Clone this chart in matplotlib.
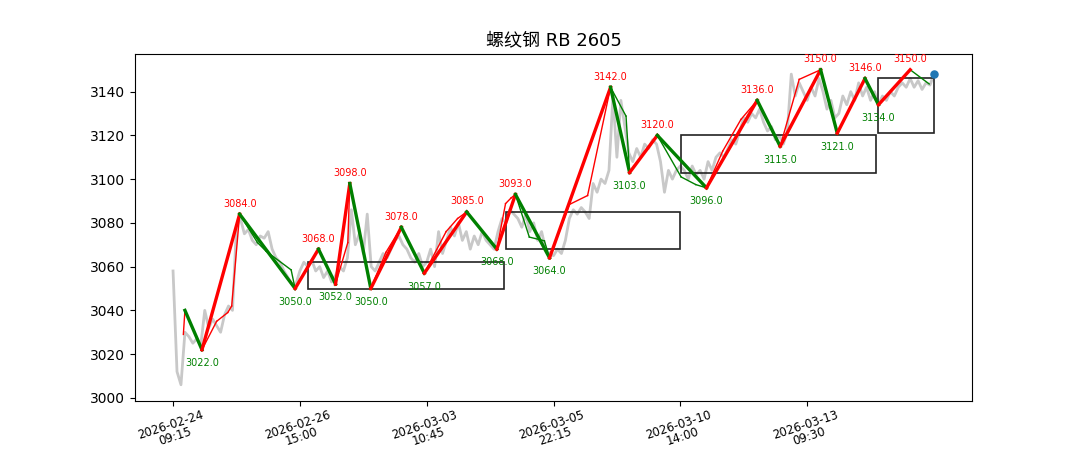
import matplotlib
matplotlib.use('Agg')
import matplotlib.pyplot as plt
from matplotlib.patches import Rectangle

plt.rcParams['font.family'] = ['DejaVu Sans', 'Noto Sans CJK SC']

title = '螺纹钢 RB 2605'

tick_pos = [0, 32, 64, 96, 128, 160]
tick_labels = ['2026-02-24\n09:15', '2026-02-26\n15:00', '2026-03-03\n10:45',
               '2026-03-05\n22:15', '2026-03-10\n14:00', '2026-03-13\n09:30']

# price line, one value per index
close = [
    3058, 3012, 3006, 3030, 3028, 3025, 3027, 3024, 3040, 3032,
    3036, 3033, 3030, 3038, 3042, 3040, 3078, 3082, 3075, 3077,
    3072, 3070, 3074, 3073, 3076, 3068, 3064, 3062, 3058, 3055,
    3052, 3052, 3058, 3062, 3060, 3063, 3058, 3060, 3055, 3058,
    3053, 3056, 3060, 3058, 3064, 3086, 3070, 3075, 3066, 3084,
    3060, 3058, 3062, 3066, 3064, 3068, 3072, 3074, 3070, 3068,
    3064, 3062, 3066, 3060, 3062, 3068, 3060, 3076, 3066, 3072,
    3078, 3074, 3080, 3072, 3076, 3068, 3074, 3070, 3076, 3072,
    3070, 3068, 3076, 3082, 3080, 3086, 3084, 3082, 3078, 3084,
    3076, 3080, 3072, 3076, 3068, 3066, 3065, 3068, 3066, 3072,
    3082, 3086, 3084, 3087, 3085, 3082, 3098, 3094, 3100, 3098,
    3104, 3138, 3110, 3136, 3124, 3112, 3108, 3114, 3110, 3116,
    3114, 3118, 3116, 3108, 3094, 3104, 3100, 3104, 3106, 3104,
    3100, 3106, 3102, 3104, 3100, 3108, 3104, 3110, 3112, 3110,
    3114, 3118, 3116, 3122, 3128, 3126, 3130, 3128, 3132, 3126,
    3122, 3124, 3118, 3120, 3116, 3122, 3148, 3138, 3144, 3140,
    3136, 3142, 3138, 3146, 3140, 3132, 3136, 3128, 3130, 3138,
    3134, 3140, 3136, 3144, 3138, 3142, 3136, 3140, 3134, 3138,
    3136, 3140, 3138, 3142, 3144, 3142, 3146, 3142, 3145, 3141,
    3144, 3143, 3148,
]

# strokes (thick)
bi_x = [3.0, 7.3, 16.8, 30.8, 36.7, 41.0, 44.6, 49.9, 57.6, 63.4, 74.1, 81.7, 86.4,
        95.0, 110.4, 115.2, 122.2, 134.6, 147.4, 153.2, 163.4, 167.6, 174.6, 178.0, 186.0]
bi_y = [3040, 3022, 3084, 3050, 3068, 3052, 3098, 3050, 3078, 3057, 3085, 3068, 3093,
        3064, 3142, 3103, 3120, 3096, 3136, 3115, 3150, 3121, 3146, 3134, 3150]

# lower level (thin)
seg_x = [2.6, 3.0, 7.3, 11.0, 13.8, 14.8, 16.8, 21.3, 23.5, 29.8, 30.8, 36.7, 41.0,
         44.1, 44.6, 49.9, 53.7, 57.6, 63.4, 68.9, 71.8, 74.1, 81.7, 83.9, 85.3, 86.4,
         89.9, 93.7, 95.0, 100.0, 104.6, 110.4, 114.3, 115.2, 122.2, 128.2, 131.9,
         134.6, 138.7, 143.3, 147.4, 153.2, 158.0, 163.4, 167.6, 174.6, 178.0, 186.0, 190.8]
seg_y = [3029, 3040, 3022, 3035, 3039, 3042, 3084, 3071, 3067, 3058.5, 3050, 3068, 3052,
         3071, 3098, 3050, 3066.5, 3078, 3057, 3076, 3082, 3085, 3068, 3088.8, 3091.4, 3093,
         3073.5, 3071.8, 3064, 3088.4, 3092.5, 3142, 3128.8, 3103, 3120, 3101, 3097.5,
         3096, 3112.8, 3127.3, 3136, 3115, 3145.6, 3150, 3121, 3146, 3134, 3150, 3143.5]

# pivot boxes
zs_start = [34.1, 83.9, 128.2, 177.9]
zs_end = [83.4, 127.8, 177.5, 192.0]
zs_low = [3050, 3068, 3103, 3121]
zs_high = [3062, 3085, 3120, 3146]

fig, ax = plt.subplots(figsize=(10.8, 4.5), dpi=100)

ax.plot(range(len(close)), close, color='#c8c8c8', lw=2.0, zorder=1)

for x0, x1, lo, hi in zip(zs_start, zs_end, zs_low, zs_high):
    ax.add_patch(Rectangle((x0, lo), x1 - x0, hi - lo, fill=False,
                           edgecolor='#222222', lw=1.2, zorder=2))

for i in range(len(seg_x) - 1):
    c = 'red' if seg_y[i + 1] > seg_y[i] else 'green'
    ax.plot(seg_x[i:i + 2], seg_y[i:i + 2], color=c, lw=1.0, zorder=3)

for i in range(len(bi_x) - 1):
    c = 'red' if bi_y[i + 1] > bi_y[i] else 'green'
    ax.plot(bi_x[i:i + 2], bi_y[i:i + 2], color=c, lw=2.4, zorder=4)

for i in range(1, len(bi_x)):
    if bi_y[i] > bi_y[i - 1]:
        ax.annotate(f'{bi_y[i]:.1f}', (bi_x[i], bi_y[i]), xytext=(0, 4),
                    textcoords='offset points', ha='center', va='bottom',
                    fontsize=7, color='red', zorder=5)
    else:
        ax.annotate(f'{bi_y[i]:.1f}', (bi_x[i], bi_y[i]), xytext=(0, -6),
                    textcoords='offset points', ha='center', va='top',
                    fontsize=7, color='green', zorder=5)

ax.scatter([len(close) - 1], [close[-1]], s=26, color='#1f77b4', zorder=6)

ax.set_xticks(tick_pos)
ax.set_xticklabels(tick_labels, rotation=18, fontsize=8.5, linespacing=0.95)
ax.tick_params(axis='x', pad=2)
ax.set_title(title, fontsize=13)

fig.savefig('out.png', dpi=100)
